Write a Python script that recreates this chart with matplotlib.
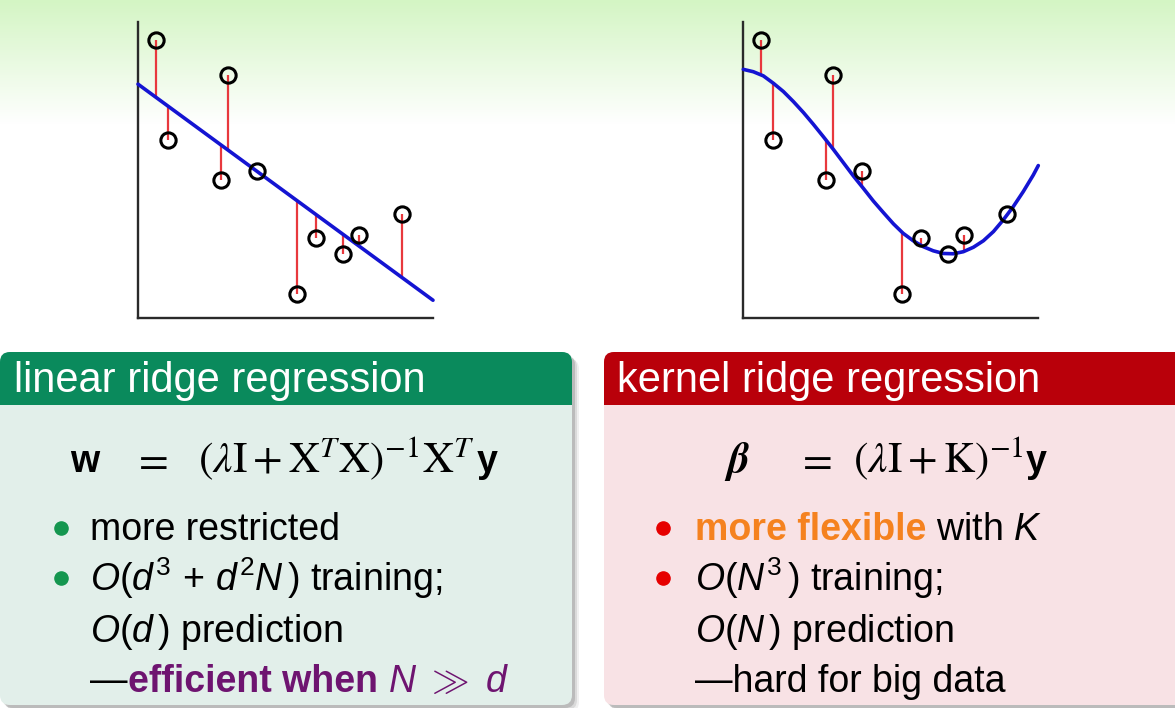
import numpy as np
import matplotlib
matplotlib.use("Agg")
from matplotlib import pyplot as plt
from matplotlib.patches import FancyBboxPatch, Rectangle

plt.rcParams['font.family'] = ['Liberation Sans', 'DejaVu Sans']
plt.rcParams['mathtext.fontset'] = 'custom'
plt.rcParams['mathtext.rm'] = 'Liberation Sans'
plt.rcParams['mathtext.it'] = 'Liberation Sans:italic'
plt.rcParams['mathtext.bf'] = 'Liberation Sans:bold'

# data points, same in both panels
pts_x = [0.6, 1.0, 3.05, 2.8, 4.05, 5.4, 6.05, 6.95, 7.5, 8.95]
pts_y = [9.4, 6.0, 8.2, 4.65, 4.95, 0.8, 2.7, 2.15, 2.8, 3.5]

# linear fit
line_b0 = 7.9
line_b1 = -0.73

# kernel fit curve
curve_x = [0.01, 0.35, 0.69, 1.03, 1.37, 1.71, 2.05, 2.38, 2.72, 3.06,
           3.40, 3.74, 4.08, 4.42, 4.76, 5.10, 5.43, 5.77, 6.11, 6.45,
           6.79, 7.13, 7.47, 7.81, 8.15, 8.49, 8.82, 9.16, 9.50, 9.84, 10.01]
curve_y = [8.40, 8.32, 8.18, 7.93, 7.65, 7.31, 6.94, 6.55, 6.13, 5.70,
           5.25, 4.80, 4.38, 3.95, 3.56, 3.18, 2.86, 2.61, 2.41, 2.27,
           2.18, 2.17, 2.24, 2.39, 2.61, 2.92, 3.31, 3.76, 4.27, 4.83, 5.15]

W, H = 1175, 708
fig = plt.figure(figsize=(W / 100, H / 100), dpi=100)

# overlay axes in pixel units (y down)
ov = fig.add_axes([0, 0, 1, 1], zorder=0)
ov.set_xlim(0, W)
ov.set_ylim(H, 0)
ov.axis('off')

# green gradient at the top
grad = np.ones((H, 1, 3))
top = np.array([212, 245, 196]) / 255.
n = 125
t = np.linspace(0, 1, n)[:, None]
grad[:n, 0, :] = top * (1 - t) + 1.0 * t
ov.imshow(grad, extent=[0, W, H, 0], aspect='auto', zorder=0)

GREEN_HEAD = '#0A8A5C'
GREEN_BODY = '#E2EFEA'
RED_HEAD = '#B9000A'
RED_BODY = '#F8E2E5'


def block(x0, x1, y0, yh, y1, head, body, shadow=True):
    w = x1 - x0
    if shadow:
        for off, a in [(7, 0.08), (5, 0.12), (3, 0.2)]:
            ov.add_patch(FancyBboxPatch((x0 + off, y0 + off), w, y1 - y0,
                                        boxstyle="round,pad=0,rounding_size=10",
                                        fc='#404040', ec='none', alpha=a, zorder=1))
    ov.add_patch(FancyBboxPatch((x0, y0), w, y1 - y0,
                                boxstyle="round,pad=0,rounding_size=10",
                                fc=body, ec='none', zorder=2))
    ov.add_patch(FancyBboxPatch((x0, y0), w, yh - y0,
                                boxstyle="round,pad=0,rounding_size=10",
                                fc=head, ec='none', zorder=3))
    ov.add_patch(Rectangle((x0, yh - 20), w, 20, fc=head, ec='none', zorder=3))


block(0, 572, 352, 405, 705, GREEN_HEAD, GREEN_BODY)
block(604, 1190, 352, 405, 705, RED_HEAD, RED_BODY)

fig.canvas.draw()
renderer = fig.canvas.get_renderer()


def chain(x, y, pieces, size):
    for s, kw in pieces:
        txt = ov.text(x, y, s, va='baseline', ha='left', fontsize=size, zorder=5, **kw)
        bb = txt.get_window_extent(renderer)
        x = bb.x1
    return x


# headers
ov.text(14, 392, 'linear ridge regression', color='white', fontsize=30,
        va='baseline', zorder=5)
ov.text(617, 392, 'kernel ridge regression', color='white', fontsize=30,
        va='baseline', zorder=5)

# formulas
FS = 31
ov.text(70, 472, 'w', fontsize=27, weight='bold', va='baseline', zorder=5)
ov.text(132, 472, r'$=$', fontsize=FS, math_fontfamily='stix', va='baseline', zorder=5)
xe = chain(198, 472, [(r'$(\lambda\mathrm{I} + \mathrm{X}^{T}\mathrm{X})^{-1}\mathrm{X}^{T}$',
                       dict(math_fontfamily='stix'))], FS)
ov.text(xe + 2, 472, 'y', fontsize=27, weight='bold', va='baseline', zorder=5)

ov.text(727, 472, 'β', fontsize=FS, family='STIXGeneral', weight='bold',
        style='italic', va='baseline', zorder=5)
ov.text(796, 472, r'$=$', fontsize=FS, math_fontfamily='stix', va='baseline', zorder=5)
xe = chain(853, 472, [(r'$(\lambda\mathrm{I} + \mathrm{K})^{-1}$',
                       dict(math_fontfamily='stix'))], FS)
ov.text(xe + 2, 472, 'y', fontsize=27, weight='bold', va='baseline', zorder=5)

# bullets
BS = 27
PURPLE = '#6E1470'
ORANGE = '#F5821F'
ov.scatter([61, 61], [528, 578], s=90, color='#14964F', zorder=5)
ov.scatter([663, 663], [528, 578], s=90, color='#E60000', zorder=5)

ov.text(90, 540, 'more restricted', fontsize=BS, va='baseline', zorder=5)
ov.text(90, 591, r'$O(d^3\,+\,d^2N\,)$ training;', fontsize=BS, va='baseline', zorder=5)
ov.text(90, 642, r'$O(d\,)$ prediction', fontsize=BS, va='baseline', zorder=5)
chain(90, 692, [('—', {}),
                ('efficient when ', dict(color=PURPLE, weight='bold')),
                (r'$N\ \gg\ d$', dict(color=PURPLE))], BS)

chain(695, 540, [('more flexible', dict(color=ORANGE, weight='bold')),
                 (r' with $K$', {})], BS)
ov.text(695, 591, r'$O(N^3\,)$ training;', fontsize=BS, va='baseline', zorder=5)
ov.text(695, 642, r'$O(N\,)$ prediction', fontsize=BS, va='baseline', zorder=5)
ov.text(695, 692, '—hard for big data', fontsize=BS, va='baseline', zorder=5)


def panel(x0, kind):
    ax = fig.add_axes([x0 / W, 1 - 318 / H, 295 / W, 296 / H], zorder=2)
    ax.patch.set_alpha(0)
    ax.set_xlim(0, 10)
    ax.set_ylim(0, 10)
    for s in ['top', 'right']:
        ax.spines[s].set_visible(False)
    for s in ['left', 'bottom']:
        ax.spines[s].set_linewidth(1.7)
        ax.spines[s].set_color('#2a2a2a')
    ax.set_xticks([])
    ax.set_yticks([])
    px = np.array(pts_x)
    py = np.array(pts_y)
    if kind == 'linear':
        fx = np.array([0, 10])
        fy = line_b0 + line_b1 * fx
        fit_at = line_b0 + line_b1 * px
    else:
        fx = np.array(curve_x)
        fy = np.array(curve_y)
        fit_at = np.interp(px, fx, fy)
    ax.vlines(px, fit_at, py, color='#E8383D', lw=1.6, zorder=2)
    ax.plot(fx, fy, color='#1414D2', lw=2.6, zorder=3, clip_on=False,
            solid_capstyle='round')
    ax.plot(px, py, 'o', mfc='none', mec='black', ms=11, mew=2.2, zorder=4,
            clip_on=False)
    return ax


panel(138, 'linear')
panel(743, 'kernel')

fig.savefig('out.png', dpi=100)
